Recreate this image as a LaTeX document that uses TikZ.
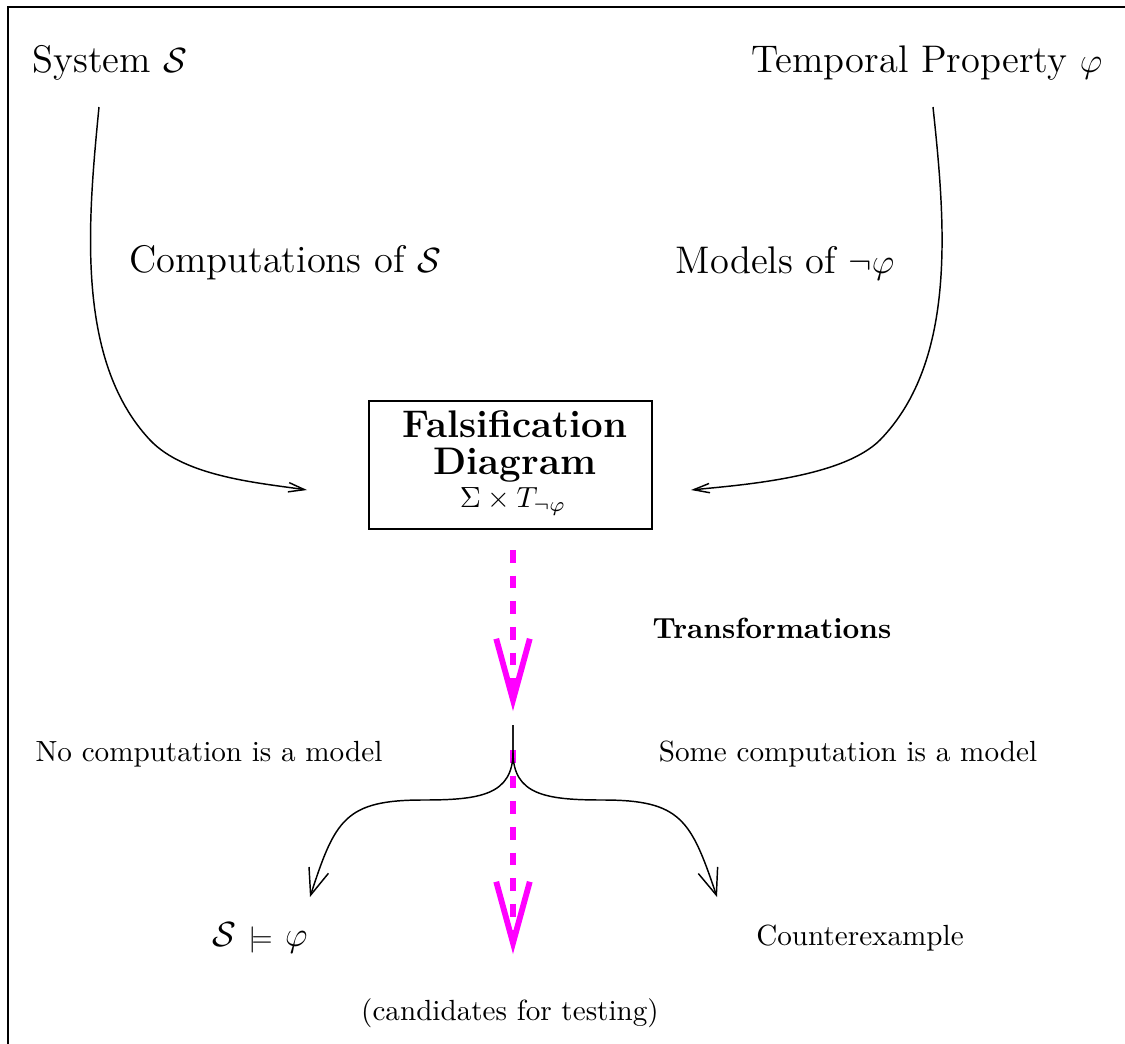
\documentclass[tikz,border=0pt]{standalone}
\usetikzlibrary{arrows.meta}
\definecolor{mag}{RGB}{255,0,255}
\begin{document}
\begin{tikzpicture}[x=0.343pt,y=-0.343pt,
  big/.style={font=\fontsize{13.2}{15}\selectfont, inner sep=0pt},
  small/.style={font=\fontsize{10}{12}\selectfont, inner sep=0pt},
  fdtitle/.style={font=\fontsize{13.2}{15}\selectfont\bfseries, inner sep=0pt, anchor=base},
  curve/.style={line width=0.5pt},
  thintip/.style={-{Straight Barb[length=5.5pt,width=3.2pt]}},
  bigtip/.style={-{Straight Barb[length=9pt,width=7pt]}},
  magarrow/.style={draw=mag, line width=2pt, dash pattern=on 4.4pt off 4.4pt,
     -{Straight Barb[length=21pt,width=11.5pt]}},
  fdbox/.style={draw, line width=0.7pt, minimum width=97pt, minimum height=44pt, inner sep=0pt}
]
\useasboundingbox (0,0) rectangle (1125,1044);
% frame (right and bottom edges fall outside the picture)
\draw[line width=0.85pt] (8,1050) -- (8,7) -- (1130,7);

% texts
\node[big] (sys) at (110,63) {System $\mathcal{S}$};
\node[big] (prop) at (927,63) {Temporal Property $\varphi$};
\node[big] (comp) at (285,263) {Computations of $\mathcal{S}$};
\node[big] (mods) at (785,263) {Models of $\neg\varphi$};
\node[fdbox] (fd) at (510.5,465) {};
\node[fdtitle] (fd1) at (515,437) {Falsification};
\node[fdtitle] (fd2) at (515,474) {Diagram};
\node[small, anchor=base] (fd3) at (513,507) {$\Sigma\times T_{\neg\varphi}$};
\node[small] (trans) at (772,628) {\bfseries Transformations};
\node[small] (nocomp) at (209,754) {No computation is a model};
\node[small] (somecomp) at (848,754) {Some computation is a model};
\node[big] (sat) at (260,938) {$\mathcal{S}\ {\scriptstyle\models}\ \varphi$};
\node[small] (cex) at (860,938) {Counterexample};
\node[small] (cand) at (510,1013) {(candidates for testing)};

% coordinates for connector ends
\coordinate (sysout) at (99,107);
\coordinate (propout) at (933,107);
\coordinate (fdinL) at (307,490);
\coordinate (fdinR) at (691,490);
\coordinate (m1s) at (513,550);
\coordinate (m1e) at (513,711);
\coordinate (split) at (513,725);
\coordinate (m2s) at (513,750);
\coordinate (m2e) at (513,954);
\coordinate (satin) at (310,897);
\coordinate (cexin) at (717,897);

% top curves
\draw[curve,thintip] (sysout) .. controls (88,220) and (75,360) .. (150,440)
   .. controls (185,477) and (260,483) .. (fdinL);
\draw[curve,thintip] (propout) .. controls (945,220) and (958,360) .. (880,440)
   .. controls (842,478) and (740,485) .. (fdinR);

% magenta transformation arrows
\draw[magarrow] (m1s) -- (m1e);
\draw[magarrow] (m2s) -- (m2e);

% split
\draw[curve,bigtip] (split) -- (513,752) .. controls (513,795) and (480,800) .. (423,800)
   .. controls (345,800) and (335,820) .. (satin);
\draw[curve,bigtip] (split) -- (513,752) .. controls (513,795) and (546,800) .. (603,800)
   .. controls (681,800) and (691,820) .. (cexin);
\end{tikzpicture}
\end{document}
